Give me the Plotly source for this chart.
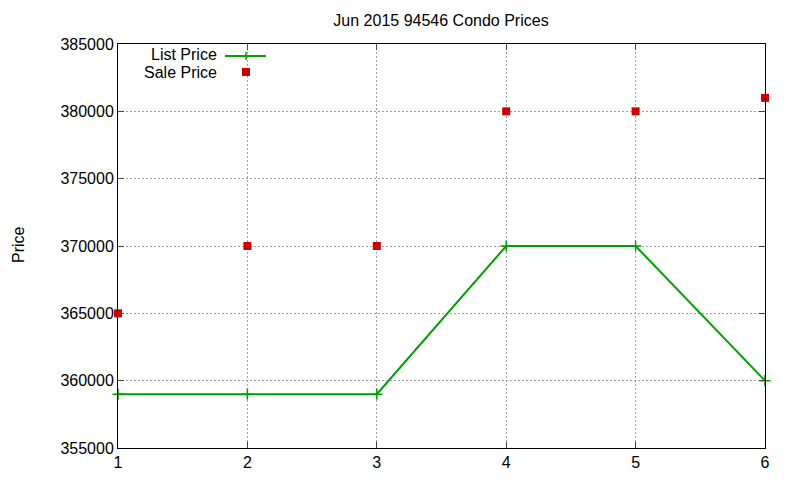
import plotly.graph_objects as go

x_vals = [1, 2, 3, 4, 5, 6]
list_price = [359000, 359000, 359000, 370000, 370000, 360000]
sale_price = [365000, 370000, 370000, 380000, 380000, 381000]
y_ticks = [355000, 360000, 365000, 370000, 375000, 380000, 385000]

green = "#00a000"
red = "#cc0000"
font = "Liberation Sans, Arial, sans-serif"

# page body has an 8px margin; plot area in the screenshot: x 118..765, y 44..448
OFF = 8
PL, PR, PT, PB = 118, 765, 44, 448
PW, PH = PR - PL, PB - PT

def px(xp):
    return (xp - PL) / PW

def py(yp):
    return (PB - yp) / PH

fig = go.Figure()
fig.add_trace(go.Scatter(
    x=x_vals, y=list_price, mode="lines+markers", name="List Price",
    line=dict(color=green, width=2),
    marker=dict(symbol="cross-thin", size=8, line=dict(color=green, width=1.5)),
    cliponaxis=False,
))
fig.add_trace(go.Scatter(
    x=x_vals, y=sale_price, mode="markers", name="Sale Price",
    marker=dict(symbol="square", size=8, color=red),
    cliponaxis=False,
))

fig.update_layout(
    width=800, height=480,
    margin=dict(l=PL - OFF, r=800 - (PR - OFF), t=PT - OFF, b=480 - (PB - OFF), autoexpand=False),
    paper_bgcolor="white", plot_bgcolor="white",
    showlegend=False,
    font=dict(family=font, size=16, color="black"),
    title=dict(text="Jun 2015 94546 Condo Prices", x=px(441), xref="paper", xanchor="center",
               y=1 - (20 - OFF) / 480, yanchor="middle", font=dict(size=16)),
)
fig.update_xaxes(
    range=[1, 6], tickvals=x_vals, ticks="inside", ticklen=6,
    showgrid=True, gridcolor="#a0a0a0", griddash="2px,2px", gridwidth=1,
    showline=True, linecolor="black", linewidth=1, mirror="ticks",
    zeroline=False, automargin=False,
)
fig.update_yaxes(
    range=[355000, 385000], tickvals=y_ticks, ticks="inside", ticklen=6,
    showgrid=True, gridcolor="#a0a0a0", griddash="2px,2px", gridwidth=1,
    showline=True, linecolor="black", linewidth=1, mirror="ticks",
    zeroline=False, tickformat="d", automargin=False,
)

fig.add_annotation(text="Price", x=px(18), y=py(245), xref="paper", yref="paper",
                   textangle=-90, xanchor="center", yanchor="middle", showarrow=False)

# gnuplot-style legend: text right-aligned, sample on the right
fig.add_annotation(text="List Price", x=px(218), y=py(64), xref="paper", yref="paper",
                   xanchor="right", yanchor="bottom", showarrow=False, borderpad=0)
fig.add_annotation(text="Sale Price", x=px(218), y=py(63), xref="paper", yref="paper",
                   xanchor="right", yanchor="top", showarrow=False, borderpad=0)
fig.add_shape(type="line", xref="paper", yref="paper",
              x0=px(225), x1=px(266), y0=py(56), y1=py(56),
              line=dict(color=green, width=2))
fig.add_shape(type="line", xref="paper", yref="paper",
              x0=px(246), x1=px(246), y0=py(60), y1=py(52),
              line=dict(color=green, width=1.5))
fig.add_shape(type="rect", xref="paper", yref="paper",
              x0=px(242), x1=px(250), y0=py(76), y1=py(68),
              fillcolor=red, line=dict(width=0))

fig.write_html("out.html")
